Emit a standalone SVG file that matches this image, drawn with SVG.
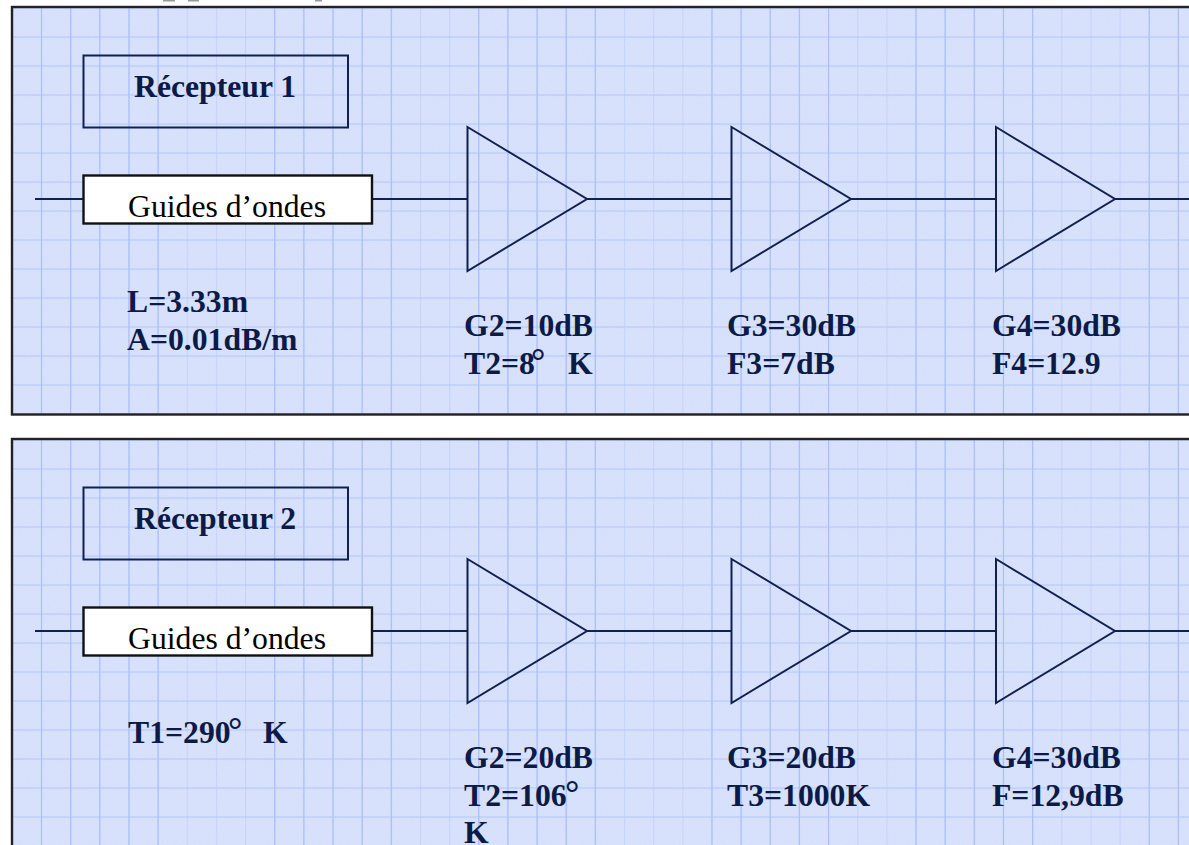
<svg xmlns="http://www.w3.org/2000/svg" width="1189" height="845" viewBox="0 0 1189 845">
<style>
.frame{stroke:#222;stroke-width:2.4;fill:none}
.ln{stroke:#10204f;stroke-width:2;fill:none}
.amp{stroke:#10204f;stroke-width:2;fill:none;stroke-linejoin:miter}
.title{stroke:#10204f;stroke-width:2;fill:none}
.guide{fill:#fff;stroke:#111;stroke-width:2.4}
.vs{stroke:#a6bcf9;stroke-width:1.2;fill:none}
text{font-family:"Liberation Serif","Times New Roman",serif;font-size:31.7px}
.b{font-weight:bold;fill:#0c1a48}
.r{fill:#000}
.deg{font-size:36px}
</style>
<defs>
<filter id="noise" x="0" y="0" width="100%" height="100%">
<feTurbulence type="fractalNoise" baseFrequency="0.9" numOctaves="1" seed="4"/>
<feColorMatrix values="0 0 0 0 1  0 0 0 0 1  0 0 0 0 1  0.9 0 0 0 -0.2"/>
</filter>
<pattern id="grid1" patternUnits="userSpaceOnUse" x="41" y="36.5" width="29.15" height="29">
<rect width="29.15" height="29" fill="#d5dffb"/>
<path d="M0.5 0V29" stroke="#c3d1fa" stroke-width="1.2" fill="none"/>
<path d="M0 0.5H29.15" stroke="#b0c3f9" stroke-width="1.2" fill="none"/>
</pattern>
<pattern id="grid2" patternUnits="userSpaceOnUse" x="41" y="468.5" width="29.15" height="29">
<rect width="29.15" height="29" fill="#d5dffb"/>
<path d="M0.5 0V29" stroke="#c3d1fa" stroke-width="1.2" fill="none"/>
<path d="M0 0.5H29.15" stroke="#b0c3f9" stroke-width="1.2" fill="none"/>
</pattern>
<path id="vs" class="vs" d="M41.500 0v405M70.650 0v405M99.800 0v405M128.950 0v405M158.100 0v405M274.700 0v405M303.850 0v405M333 0v405M362.150 0v405M391.300 0v405M478.750 0v405M507.900 0v405M537.050 0v405M566.200 0v405M595.350 0v405M711.950 0v405M741.100 0v405M770.250 0v405M799.400 0v405M828.550 0v405M916 0v405M945.150 0v405M974.300 0v405M1003.450 0v405M1032.600 0v405M1149.200 0v405M1178.350 0v405"/>
</defs>
<rect width="1189" height="845" fill="#fff"/>
<g id="heading-fragments" fill="#999">
<rect x="163" y="0" width="12" height="1.5"/><rect x="188" y="0" width="11" height="1.5"/><rect x="315" y="0" width="7" height="1.5"/>
</g>
<g id="panel-1">
<rect x="12" y="7" width="1190" height="407.500" fill="url(#grid1)"/>
<use href="#vs" y="8"/>
<rect x="13" y="8" width="1176" height="405.500" filter="url(#noise)" opacity="0.22"/>
<rect class="frame" x="12" y="7" width="1190" height="407.500"/>
</g>
<g id="panel-2">
<rect x="12" y="439" width="1190" height="420" fill="url(#grid2)"/>
<use href="#vs" y="440"/>
<rect x="13" y="440" width="1176" height="405" filter="url(#noise)" opacity="0.22"/>
<rect class="frame" x="12" y="439" width="1190" height="420"/>
</g>
<g id="connectors">
<path class="ln" d="M35 199H83M372 199H467.500M587 199H731.500M851 199H996M1115 199H1189"/>
<path class="ln" d="M35 631H83M372 631H467.500M587 631H731.500M851 631H996M1115 631H1189"/>
</g>
<g id="recepteur-1"><rect class="title" x="83.500" y="55.500" width="264.500" height="72"/><text class="b" x="134" y="97">Récepteur 1</text></g>
<g id="guide-1"><rect class="guide" x="83.500" y="175.500" width="288.500" height="48"/><text class="r" x="128" y="217">Guides d’ondes</text></g>
<g id="amp-1-1"><polygon class="amp" points="467.500,127 587,199 467.500,271"/></g>
<g id="amp-1-2"><polygon class="amp" points="731.500,127 851,199 731.500,271"/></g>
<g id="amp-1-3"><polygon class="amp" points="996,127 1115,199 996,271"/></g>
<g id="labels-1">
<text class="b" x="127" y="312">L=3.33m</text><text class="b" x="127" y="350">A=0.01dB/m</text>
<text class="b" x="464" y="336">G2=10dB</text><text class="b" x="464" y="374">T2=8<tspan class="deg" x="531" y="373">°</tspan><tspan x="568" y="374">K</tspan></text>
<text class="b" x="727" y="336">G3=30dB</text><text class="b" x="727" y="374">F3=7dB</text>
<text class="b" x="992" y="336">G4=30dB</text><text class="b" x="992" y="374">F4=12.9</text>
</g>
<g id="recepteur-2"><rect class="title" x="83.500" y="487.500" width="264.500" height="72"/><text class="b" x="134" y="529">Récepteur 2</text></g>
<g id="guide-2"><rect class="guide" x="83.500" y="607.500" width="288.500" height="48"/><text class="r" x="128" y="649">Guides d’ondes</text></g>
<g id="amp-2-1"><polygon class="amp" points="467.500,559 587,631 467.500,703"/></g>
<g id="amp-2-2"><polygon class="amp" points="731.500,559 851,631 731.500,703"/></g>
<g id="amp-2-3"><polygon class="amp" points="996,559 1115,631 996,703"/></g>
<g id="labels-2">
<text class="b" x="128" y="743">T1=290<tspan class="deg" x="228" y="742">°</tspan><tspan x="263" y="743">K</tspan></text>
<text class="b" x="464" y="768">G2=20dB</text><text class="b" x="464" y="806">T2=106<tspan class="deg" x="565" y="805">°</tspan></text><text class="b" x="464" y="843">K</text>
<text class="b" x="727" y="768">G3=20dB</text><text class="b" x="727" y="806">T3=1000K</text>
<text class="b" x="992" y="768">G4=30dB</text><text class="b" x="992" y="806">F=12,9dB</text>
</g>
</svg>
